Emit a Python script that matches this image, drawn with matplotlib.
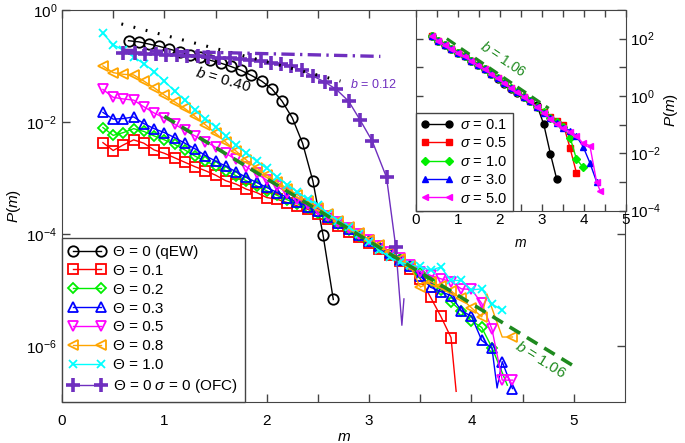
import numpy as np
import matplotlib.pyplot as plt
from matplotlib.lines import Line2D
from matplotlib.ticker import FixedLocator, NullLocator, NullFormatter

plt.rcParams['font.family'] = ['Liberation Sans', 'DejaVu Sans']
plt.rcParams['mathtext.fontset'] = 'custom'
plt.rcParams['mathtext.rm'] = 'Liberation Sans'
plt.rcParams['mathtext.it'] = 'Liberation Sans:italic'
plt.rcParams['font.size'] = 10

# ---- main panel data (log10 P(m)) ----
m_grid = [0.4, 0.5, 0.6, 0.7, 0.8, 0.9, 1.0, 1.1, 1.2, 1.3, 1.4, 1.5, 1.6, 1.7, 1.8, 1.9,
          2.0, 2.1, 2.2, 2.3, 2.4, 2.5, 2.6, 2.7, 2.8, 2.9, 3.0, 3.1, 3.2, 3.3, 3.4]

red_grid = [-2.37, -2.51, -2.41, -2.32, -2.38, -2.50, -2.56, -2.64, -2.72, -2.80, -2.87, -2.95, -3.05,
            -3.11, -3.20, -3.26, -3.35, -3.38, -3.44, -3.50, -3.56, -3.64, -3.74, -3.86, -3.97, -4.06,
            -4.16, -4.26, -4.38, -4.49, -4.62]
red_tail_m = [3.5, 3.6, 3.7, 3.8, 3.85]
red_tail = [-4.80, -5.13, -5.47, -5.85, -6.81]

green_grid = [-2.10, -2.24, -2.19, -2.12, -2.17, -2.25, -2.32, -2.40, -2.50, -2.61, -2.70, -2.78, -2.87,
              -2.96, -3.05, -3.14, -3.23, -3.31, -3.39, -3.46, -3.53, -3.62, -3.72, -3.83, -3.93, -4.03,
              -4.13, -4.24, -4.35, -4.45, -4.57]
green_tail_m = [3.5, 3.6, 3.7, 3.8, 3.9, 4.0, 4.1, 4.2, 4.35]
green_tail = [-4.70, -4.85, -5.00, -5.21, -5.38, -5.55, -5.67, -6.03, -6.70]

blue_grid = [-1.83, -1.95, -1.94, -1.91, -2.03, -2.12, -2.19, -2.28, -2.38, -2.48, -2.60, -2.70, -2.79,
             -2.89, -2.99, -3.08, -3.17, -3.26, -3.35, -3.43, -3.51, -3.59, -3.69, -3.80, -3.91, -4.02,
             -4.12, -4.22, -4.34, -4.46, -4.58]
blue_tail_m = [3.5, 3.6, 3.7, 3.8, 3.9, 4.0, 4.1, 4.2, 4.25, 4.3, 4.4]
blue_tail = [-4.75, -4.95, -5.03, -5.10, -5.37, -5.47, -5.90, -6.04, -6.75, -6.28, -6.76]

magenta_grid = [-1.42, -1.56, -1.59, -1.61, -1.73, -1.84, -1.93, -2.04, -2.15, -2.25, -2.35, -2.45, -2.56,
                -2.67, -2.80, -2.92, -3.04, -3.15, -3.26, -3.37, -3.47, -3.57, -3.68, -3.79, -3.89, -4.00,
                -4.10, -4.21, -4.32, -4.43, -4.55]
magenta_tail_m = [3.5, 3.6, 3.7, 3.8, 3.9, 4.0, 4.1, 4.2, 4.3, 4.4]
magenta_tail = [-4.68, -4.74, -4.80, -4.85, -4.98, -4.99, -5.24, -5.70, -6.61, -6.61]

orange_grid = [-1.00, -1.12, -1.15, -1.16, -1.27, -1.39, -1.52, -1.64, -1.76, -1.90, -2.05, -2.20, -2.36,
               -2.52, -2.68, -2.82, -2.95, -3.07, -3.19, -3.30, -3.42, -3.53, -3.64, -3.76, -3.87, -3.98,
               -4.10, -4.20, -4.33, -4.45, -4.57]
orange_tail_m = [3.5, 3.6, 3.7, 3.8, 3.9, 4.0, 4.1, 4.15, 4.3, 4.4]
orange_tail = [-4.95, -4.85, -4.93, -5.02, -5.15, -5.32, -5.48, -5.07, -5.84, -5.84]

cyan_grid = [-0.42, -0.62, -0.72, -0.84, -0.96, -1.10, -1.27, -1.45, -1.61, -1.78, -1.94, -2.09, -2.25,
             -2.42, -2.55, -2.70, -2.83, -2.98, -3.12, -3.25, -3.38, -3.48, -3.64, -3.76, -3.88, -4.00,
             -4.15, -4.28, -4.42, -4.50, -4.56]
cyan_tail_m = [3.5, 3.6, 3.7, 3.8, 3.9, 4.0, 4.1, 4.2, 4.3]
cyan_tail = [-4.58, -4.65, -4.59, -4.83, -4.83, -5.00, -4.98, -5.25, -5.36]

qew_m = [0.65, 0.75, 0.85, 0.95, 1.05, 1.15, 1.25, 1.35, 1.45, 1.55, 1.65, 1.75, 1.85, 1.95, 2.05,
         2.15, 2.25, 2.35, 2.45, 2.55, 2.65]
qew = [-0.55, -0.57, -0.61, -0.65, -0.70, -0.75, -0.80, -0.84, -0.90, -0.95, -1.01, -1.08, -1.17,
       -1.27, -1.41, -1.63, -1.93, -2.38, -3.05, -4.02, -5.17]

ofc_m = [0.60, 0.71, 0.81, 0.92, 1.02, 1.12, 1.22, 1.33, 1.43, 1.53, 1.64, 1.74, 1.84, 1.94, 2.04,
         2.14, 2.24, 2.34, 2.45, 2.57, 2.68, 2.80, 2.91, 3.03, 3.17, 3.26, 3.32, 3.34]
ofc = [-0.77, -0.77, -0.78, -0.79, -0.80, -0.81, -0.82, -0.83, -0.84, -0.85, -0.86, -0.87, -0.89,
       -0.92, -0.95, -0.97, -1.01, -1.07, -1.18, -1.29, -1.42, -1.63, -1.96, -2.34, -2.99, -4.23,
       -5.63, -5.16]

# fitted guide lines (endpoints, log10 P)
fit040_m, fit040 = [0.58, 2.72], [-0.25, -1.27]
fit012_m, fit012 = [0.60, 3.11], [-0.72, -0.83]
fit106_m, fit106 = [1.0, 5.0], [-1.90, -6.36]

labels_main = ['Θ = 0 (qEW)', 'Θ = 0.1', 'Θ = 0.2', 'Θ = 0.3', 'Θ = 0.5', 'Θ = 0.8', 'Θ = 1.0',
               r'Θ = 0 $\sigma$ = 0 (OFC)']

# ---- inset data ----
in_m = [0.38, 0.54, 0.70, 0.85, 1.01, 1.17, 1.32, 1.48, 1.64, 1.79, 1.95, 2.11, 2.26, 2.42, 2.58,
        2.73, 2.89, 3.05, 3.21, 3.36, 3.52, 3.68, 3.83, 3.99, 4.15, 4.31, 4.40]
s01 = [2.08, 1.92, 1.79, 1.65, 1.51, 1.38, 1.23, 1.09, 0.93, 0.78, 0.60, 0.42, 0.25, 0.10, -0.04,
       -0.19, -0.33, -0.98, -2.02, -2.90]
s05 = [2.08, 1.92, 1.79, 1.65, 1.51, 1.38, 1.23, 1.09, 0.93, 0.78, 0.62, 0.45, 0.28, 0.13, -0.02,
       -0.19, -0.40, -0.55, -0.72, -0.88, -1.00, -1.83, -2.68]
s10 = [2.08, 1.92, 1.79, 1.65, 1.51, 1.38, 1.23, 1.09, 0.93, 0.78, 0.62, 0.45, 0.28, 0.13, -0.02,
       -0.19, -0.40, -0.56, -0.75, -0.92, -1.07, -1.45, -2.20, -2.49]
s30 = [2.08, 1.92, 1.79, 1.65, 1.51, 1.38, 1.23, 1.09, 0.93, 0.78, 0.62, 0.45, 0.28, 0.13, -0.02,
       -0.19, -0.40, -0.58, -0.78, -0.95, -1.10, -1.21, -1.40, -1.77, -2.33, -2.99]
s50 = [2.08, 1.92, 1.79, 1.65, 1.51, 1.38, 1.23, 1.09, 0.93, 0.78, 0.62, 0.45, 0.28, 0.13, -0.02,
       -0.19, -0.40, -0.58, -0.80, -0.98, -1.12, -1.25, -1.40, -1.65, -1.73, -2.99, -3.33]
in_fit_m, in_fit = [0.74, 3.17], [2.0, -0.43]
labels_in = [r'$\sigma$ = 0.1', r'$\sigma$ = 0.5', r'$\sigma$ = 1.0', r'$\sigma$ = 3.0', r'$\sigma$ = 5.0']

purple = '#6f2fbf'
lime = '#00ee00'
dgreen = '#1e8a1e'
spine_c = '#444444'

fig = plt.figure(figsize=(6.85, 4.43), dpi=100)
ax = fig.add_axes([0.0905, 0.0926, 0.822, 0.885])

main_series = [
    (qew_m, qew, [], 'black', 'o', 7.5, 1.3),
    (m_grid + red_tail_m, red_grid + red_tail, [35], 'red', 's', 6.5, 1.3),
    (m_grid + green_tail_m, green_grid + green_tail, [39], lime, 'D', 5.5, 1.3),
    (m_grid + blue_tail_m, blue_grid + blue_tail, [39], 'blue', '^', 7.5, 1.3),
    (m_grid + magenta_tail_m, magenta_grid + magenta_tail, [], 'magenta', 'v', 7.5, 1.3),
    (m_grid + orange_tail_m, orange_grid + orange_tail, [38, 39], 'orange', '<', 7.5, 1.3),
    (m_grid + cyan_tail_m, cyan_grid + cyan_tail, [], 'cyan', 'x', 6, 1.3),
    (ofc_m, ofc, [26, 27], purple, '+', 10, 2.6),
]

handles = []
for xs, ys, unmarked, col, mk, ms, mew in main_series:
    p = 10.0 ** np.array(ys)
    keep = [i for i in range(len(xs)) if i not in unmarked]
    ax.plot(xs, p, '-', color=col, lw=1.0)
    ax.plot(np.array(xs)[keep], p[keep], ls='none', marker=mk, ms=ms, mew=mew,
            mfc='none', mec=col)
    handles.append(Line2D([], [], color=col, lw=1.0, marker=mk, ms=ms, mew=mew,
                          mfc='none', mec=col))

ax.plot(fit040_m, 10.0 ** np.array(fit040), color='black', lw=2.2, dashes=(0.6, 3.5))
ax.plot(fit012_m, 10.0 ** np.array(fit012), color=purple, lw=2.4, dashes=(4, 1.6, 0.7, 1.6))
ax.plot(fit106_m, 10.0 ** np.array(fit106), color=dgreen, lw=2.6, dashes=(3.4, 2.2))

ax.text(1.57, 10 ** -1.24, '$b$ = 0.40', fontsize=11, rotation=-16, ha='center', va='center')
ax.text(3.04, 10 ** -1.33, '$b$ = 0.12', fontsize=9, color=purple, ha='center', va='center')
ax.text(4.67, 10 ** -6.24, '$b$ = 1.06', fontsize=11, color=dgreen, rotation=-32,
        ha='center', va='center')

ax.set_yscale('log')
ax.set_xlim(0, 5.5)
ax.set_ylim(1e-7, 1)
ax.xaxis.set_major_locator(FixedLocator([0, 1, 2, 3, 4, 5]))
ax.xaxis.set_minor_locator(FixedLocator([0.5, 1.5, 2.5, 3.5, 4.5]))
ax.yaxis.set_major_locator(FixedLocator([1, 1e-2, 1e-4, 1e-6]))
ax.yaxis.set_minor_locator(NullLocator())
ax.tick_params(which='both', direction='in', top=True, right=True, length=6, width=1,
               color=spine_c, labelsize=11)
ax.tick_params(axis='x', pad=9)
for s in ax.spines.values():
    s.set_color(spine_c)
ax.set_xlabel('$m$', fontsize=11, labelpad=1)
ax.set_ylabel('$P$($m$)', fontsize=11, labelpad=2)

ax.legend(handles, labels_main, loc='lower left', bbox_to_anchor=(0, 0), borderaxespad=0,
          fancybox=False, framealpha=1, edgecolor=spine_c, numpoints=2, handlelength=2.4,
          fontsize=11, labelspacing=0.32, borderpad=0.45, handletextpad=0.5)

# ---- inset ----
axin = fig.add_axes([0.6069, 0.5244, 0.3063, 0.453])
in_series = [(s01, 'black', 'o'), (s05, 'red', 's'), (s10, lime, 'D'),
             (s30, 'blue', '^'), (s50, 'magenta', '<')]
for (ys, col, mk), lab in zip(in_series, labels_in):
    axin.plot(in_m[:len(ys)], 10.0 ** np.array(ys), '-', color=col, lw=1.0, marker=mk,
              ms=5 if mk != 'D' else 4, mfc=col, mec=col, label=lab)
axin.plot(in_fit_m, 10.0 ** np.array(in_fit), color=dgreen, lw=2.2, dashes=(3.4, 2.2))
axin.text(2.09, 10 ** 1.30, '$b$ = 1.06', fontsize=10, color=dgreen, rotation=-34,
          ha='center', va='center')

axin.set_yscale('log')
axin.set_xlim(0, 5)
axin.set_ylim(1e-4, 1e3)
axin.xaxis.set_major_locator(FixedLocator([0, 1, 2, 3, 4, 5]))
axin.xaxis.set_minor_locator(FixedLocator([0.5, 1.5, 2.5, 3.5, 4.5]))
axin.yaxis.set_major_locator(FixedLocator([1e2, 1, 1e-2, 1e-4]))
axin.yaxis.set_minor_locator(FixedLocator([1e1, 1e-1, 1e-3]))
axin.yaxis.set_minor_formatter(NullFormatter())
axin.yaxis.tick_right()
axin.yaxis.set_label_position('right')
axin.tick_params(which='both', direction='in', top=True, left=True, right=True, length=5,
                 width=1, color=spine_c, labelsize=11)
axin.tick_params(axis='x', pad=2)
axin.tick_params(axis='y', pad=3)
for s in axin.spines.values():
    s.set_color(spine_c)
axin.set_xlabel('$m$', fontsize=10, labelpad=6)
axin.set_ylabel('$P$($m$)', fontsize=11, labelpad=1)
axin.legend(loc='lower left', bbox_to_anchor=(0, 0), borderaxespad=0, fancybox=False,
            framealpha=1, edgecolor=spine_c, numpoints=2, handlelength=2.2, fontsize=10.5,
            labelspacing=0.3, borderpad=0.35, handletextpad=0.5)

fig.savefig('out.png', dpi=100)
